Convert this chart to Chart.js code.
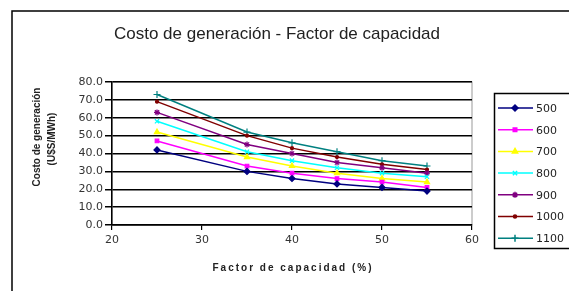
<!DOCTYPE html>
<html>
<head>
<meta charset="utf-8">
<script src="https://cdn.jsdelivr.net/npm/chart.js@4"></script>
<style>
html, body { margin: 0; padding: 0; background: #fff; }
</style>
</head>
<body>
<canvas id="costoChart" width="569" height="291"></canvas>
<script>
// datos
const factorCapacidad = [25, 35, 40, 45, 50, 55];
const nombresSerie = ['500', '600', '700', '800', '900', '1000', '1100'];
const costo500 = [42, 30, 26, 23, 21, 19];
const costo600 = [47, 33, 29, 26, 24, 21];
const costo700 = [52, 38, 33, 29, 26, 24];
const costo800 = [58, 41, 36, 32, 29, 27];
const costo900 = [63, 45, 40, 35, 32, 29];
const costo1000 = [69, 50, 43, 38, 34, 31];
const costo1100 = [73, 52, 46, 41, 36, 33];
const ticksX = [20, 30, 40, 50, 60];
const ticksY = [0, 10, 20, 30, 40, 50, 60, 70, 80];

const valores = [costo500, costo600, costo700, costo800, costo900, costo1000, costo1100];
const colores = ['#000080', '#ff00ff', '#ffff00', '#00ffff', '#800080', '#800000', '#008080'];
const marcas = ['rectRot', 'rect', 'triangle', 'crossRot', 'star', 'circle', 'cross'];
const radios = [3, 2.5, 3, 3, 3, 1.5, 3.5];

const fuente = 'DejaVu Sans';

const datasets = nombresSerie.map((nombre, i) => ({
    label: nombre,
    data: factorCapacidad.map((x, j) => ({ x: x, y: valores[i][j] })),
    borderColor: colores[i],
    backgroundColor: colores[i],
    borderWidth: 1.5,
    pointStyle: marcas[i],
    pointRadius: radios[i],
    pointBorderWidth: 1.2,
    tension: 0
}));

// marco, titulos y leyenda dibujados a mano
const decoracion = {
    id: 'decoracion',
    beforeDraw(chart) {
        const ctx = chart.ctx;
        const a = chart.chartArea;
        ctx.save();
        ctx.fillStyle = '#fff';
        ctx.fillRect(0, 0, chart.width, chart.height);
        ctx.strokeStyle = '#000';
        ctx.lineWidth = 1.5;
        ctx.strokeRect(12, 11, 620, 330);
        ctx.strokeStyle = '#999';
        ctx.lineWidth = 1;
        ctx.strokeRect(a.left, a.top, a.right - a.left, a.bottom - a.top);
        ctx.restore();
    },
    afterDraw(chart) {
        const ctx = chart.ctx;
        ctx.save();
        ctx.fillStyle = '#222';
        ctx.textAlign = 'center';
        ctx.textBaseline = 'middle';
        ctx.font = '17px "Liberation Sans"';
        ctx.fillText('Costo de generación - Factor de capacidad', 277, 34);

        ctx.font = 'bold 10px "Liberation Sans"';
        ctx.letterSpacing = '2px';
        ctx.fillText('Factor de capacidad (%)', 293, 268);
        ctx.letterSpacing = '0px';

        ctx.save();
        ctx.translate(37, 137);
        ctx.rotate(-Math.PI / 2);
        ctx.fillText('Costo de generación', 0, 0);
        ctx.restore();
        ctx.save();
        ctx.translate(52, 139);
        ctx.rotate(-Math.PI / 2);
        ctx.fillText('(U$S/MWh)', 0, 0);
        ctx.restore();

        // leyenda
        ctx.strokeStyle = '#000';
        ctx.lineWidth = 1.5;
        ctx.strokeRect(494.5, 93.5, 100, 155);
        ctx.textAlign = 'left';
        ctx.font = '11px ' + fuente;
        chart.data.datasets.forEach((ds, i) => {
            const y = 108 + i * 21.7;
            ctx.strokeStyle = ds.borderColor;
            ctx.fillStyle = ds.backgroundColor;
            ctx.lineWidth = 1.5;
            ctx.beginPath();
            ctx.moveTo(498, y);
            ctx.lineTo(533, y);
            ctx.stroke();
            Chart.helpers.drawPoint(ctx, { pointStyle: ds.pointStyle, radius: ds.pointRadius, borderWidth: 1.2, rotation: 0 }, 515, y);
            ctx.fillStyle = '#222';
            ctx.fillText(ds.label, 536, y + 1);
        });
        ctx.restore();
    }
};

new Chart(document.getElementById('costoChart'), {
    type: 'line',
    data: { datasets: datasets },
    options: {
        responsive: false,
        animation: false,
        layout: { padding: { top: 82, right: 97, left: 0, bottom: 0 } },
        plugins: {
            legend: { display: false },
            title: { display: false },
            tooltip: { enabled: false }
        },
        scales: {
            x: {
                type: 'linear',
                min: 20,
                max: 60,
                afterFit: s => { s.height = 66; },
                afterBuildTicks: s => { s.ticks = ticksX.map(v => ({ value: v })); },
                ticks: { color: '#333', font: { family: fuente, size: 11 }, padding: 4, maxRotation: 0 },
                grid: { drawOnChartArea: false, color: '#000', tickLength: 5, lineWidth: 1.2 },
                border: { color: '#000', width: 1.5 }
            },
            y: {
                min: 0,
                max: 80,
                afterFit: s => { s.width = 112; },
                afterBuildTicks: s => { s.ticks = ticksY.map(v => ({ value: v })); },
                ticks: {
                    color: '#333',
                    font: { family: fuente, size: 11 },
                    padding: 2,
                    callback: v => v.toFixed(1)
                },
                grid: { color: '#000', lineWidth: 1.5, tickLength: 7 },
                border: { color: '#000', width: 1.5 }
            }
        }
    },
    plugins: [decoracion]
});
</script>
</body>
</html>
